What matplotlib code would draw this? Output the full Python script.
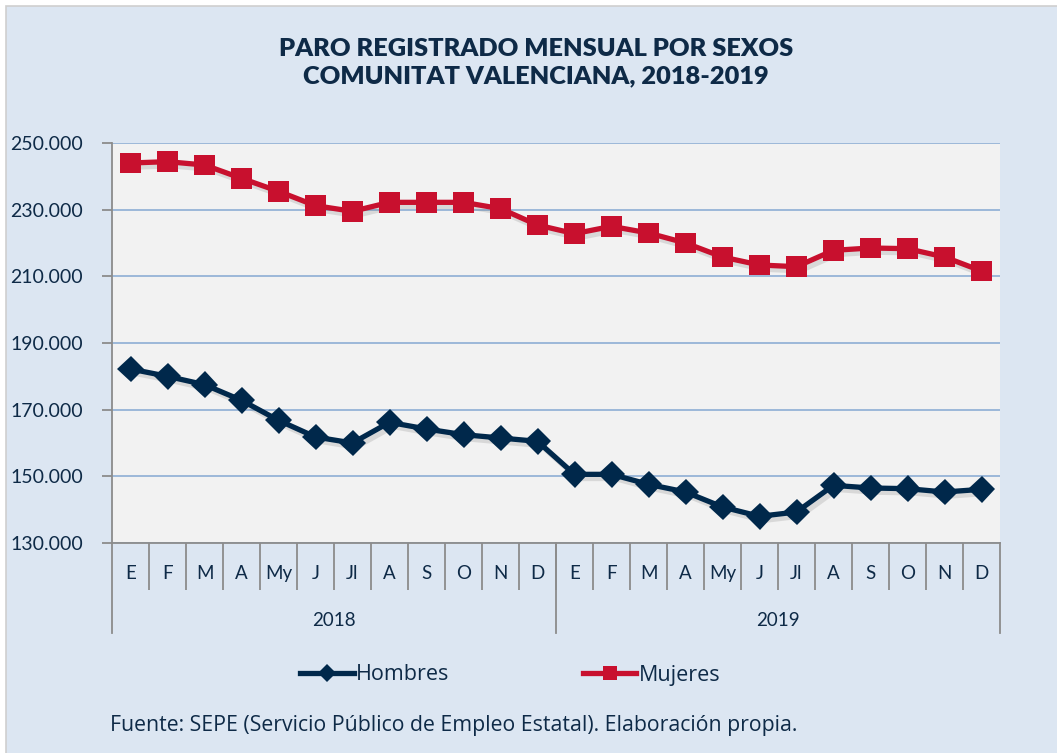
import numpy as np
import matplotlib
matplotlib.use("Agg")
import matplotlib.pyplot as plt
import matplotlib.patheffects as pe
from matplotlib.patches import Rectangle
from matplotlib.lines import Line2D
import matplotlib.transforms as mtransforms

plt.rcParams['font.family'] = ['Lato', 'DejaVu Sans']

months = ["E", "F", "M", "A", "My", "J", "Jl", "A", "S", "O", "N", "D"]
years = ["2018", "2019"]
categories = months * 2

hombres = [182200, 180000, 177500, 172800, 166800, 161800, 160000, 166200, 164200, 162500, 161500, 160500,
           150600, 150600, 147600, 145300, 140800, 138000, 139300, 147300, 146500, 146300, 145300, 146100]
mujeres = [244000, 244400, 243400, 239400, 235500, 231200, 229500, 232200, 232200, 232200, 230300, 225400,
           222800, 225000, 223000, 220000, 215800, 213400, 212900, 217800, 218500, 218300, 215800, 211600]

yticks = [130000, 150000, 170000, 190000, 210000, 230000, 250000]
title = "PARO REGISTRADO MENSUAL POR SEXOS\nCOMUNITAT VALENCIANA, 2018-2019"
source = "Fuente: SEPE (Servicio Público de Empleo Estatal). Elaboración propia."

NAVY = "#00284B"
RED = "#C8102E"
TEXT = "#0E2A47"
BG = "#DCE6F2"
PLOT_BG = "#F2F2F2"
GRID = "#95B3D7"
AXIS = "#8C8C8C"

W, H = 1057, 753
fig = plt.figure(figsize=(W / 100, H / 100), dpi=100, facecolor="white")
fig.patches.append(Rectangle((6 / W, -0.01), 1.02, 1 - 6 / H + 0.01, transform=fig.transFigure,
                             facecolor=BG, edgecolor="#CFCFCF", linewidth=1.2, zorder=-10))

ax = fig.add_axes([112 / W, 1 - 543 / H, (1000 - 112) / W, (543 - 143) / H])
ax.set_facecolor(PLOT_BG)

x = np.arange(len(categories))
shadow = [pe.SimpleLineShadow(offset=(2.5, -3), shadow_color="#666666", alpha=0.18), pe.Normal()]
ax.plot(x, hombres, color=NAVY, lw=3.8, marker="D", ms=13.5, markeredgewidth=0,
        label="Hombres", path_effects=shadow, zorder=3)
ax.plot(x, mujeres, color=RED, lw=3.8, marker="s", ms=15, markeredgewidth=0,
        label="Mujeres", path_effects=shadow, zorder=3)

ax.set_ylim(130000, 250000)
ax.set_yticks(yticks)
ax.set_yticklabels([f"{v:,}".replace(",", ".") for v in yticks])
ax.yaxis.grid(True, color=GRID, lw=1.3)
ax.set_axisbelow(True)
ax.tick_params(axis="y", length=7, color=AXIS, width=1.3, labelsize=14, labelcolor=TEXT, pad=14)

ax.set_xlim(-0.5, len(categories) - 0.5)
ax.set_xticks(x)
ax.set_xticklabels(categories)
ax.tick_params(axis="x", which="major", length=0, labelsize=13.5, labelcolor=TEXT, pad=16)
ax.set_xticks(np.arange(0.5, len(categories) - 1, 1), minor=True)
ax.tick_params(axis="x", which="minor", length=34, color=AXIS, width=1.3)

for s in ["top", "right"]:
    ax.spines[s].set_visible(False)
ax.spines["left"].set_color(AXIS)
ax.spines["left"].set_linewidth(1.3)
ax.spines["bottom"].set_color(AXIS)
ax.spines["bottom"].set_linewidth(1.3)

# year separators and labels
trans = mtransforms.blended_transform_factory(ax.transData, ax.transAxes)
ylow = -(633 - 543) / (543 - 143)
for xb in [-0.5, 11.5, 23.5]:
    ax.add_line(Line2D([xb, xb], [0, ylow], transform=trans, color=AXIS, lw=1.3, clip_on=False))
for i, yr in enumerate(years):
    ax.text(i * 12 + 5.5, -(620 - 543) / (543 - 143), yr, transform=trans, ha="center", va="center",
            fontsize=13.5, color=TEXT)

fig.text(536 / W, 1 - 63 / H, title, ha="center", va="center", fontsize=18.3, fontweight="heavy",
         color=TEXT, linespacing=1.3)

handles = [Line2D([], [], color=NAVY, lw=3.8, marker="D", ms=9, markeredgewidth=0),
           Line2D([], [], color=RED, lw=3.8, marker="s", ms=10, markeredgewidth=0)]
fig.legend(handles, ["Hombres", "Mujeres"], loc="center", bbox_to_anchor=(510 / W, 1 - 675 / H),
           ncol=2, frameon=False, prop={"family": ["Open Sans", "DejaVu Sans"], "size": 15.5},
           handlelength=2.5, handletextpad=0.1, columnspacing=6.2, labelcolor=TEXT)

fig.text(110 / W, 1 - 725 / H, source, ha="left", va="center", fontsize=15.3, color=TEXT,
         family=["Open Sans", "DejaVu Sans"])

fig.savefig("out.png", dpi=100, facecolor=fig.get_facecolor())
